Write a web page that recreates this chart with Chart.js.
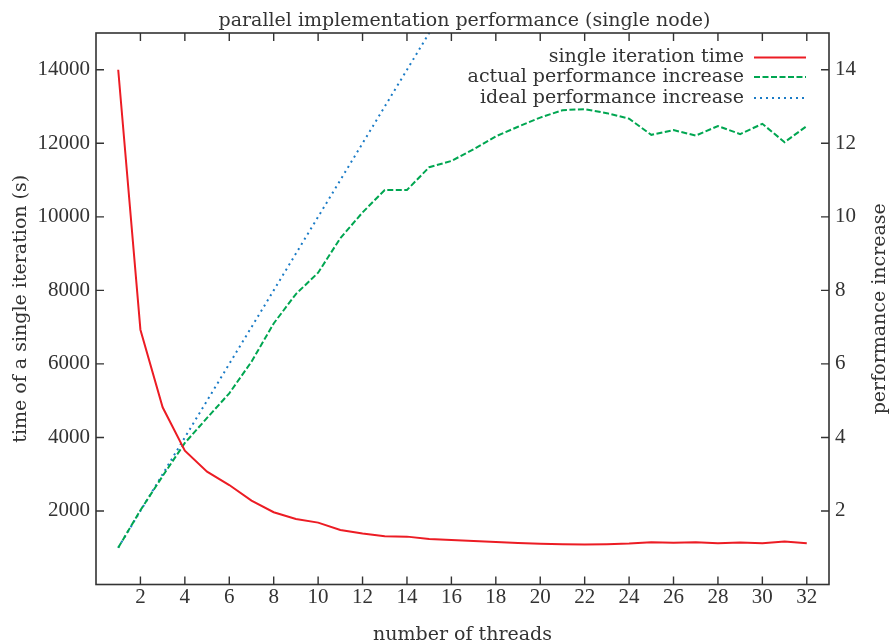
<!DOCTYPE html>
<html>
<head>
<meta charset="utf-8">
<script src="https://cdn.jsdelivr.net/npm/chart.js@4.4.1/dist/chart.umd.min.js"></script>
<style>
  html, body { margin: 0; padding: 0; background: #fff; }
  #wrap { width: 893px; height: 642px; }
</style>
</head>
<body>
<div id="wrap"><canvas id="perfChart" width="893" height="642"></canvas></div>
<script>
// values
const threads = [1, 2, 3, 4, 5, 6, 7, 8, 9, 10, 11, 12, 13, 14, 15, 16,
                 17, 18, 19, 20, 21, 22, 23, 24, 25, 26, 27, 28, 29, 30, 31, 32];
const iterTime = [14000, 6930, 4820, 3640, 3070, 2705, 2280, 1965, 1782, 1683, 1485, 1385, 1312, 1302, 1238, 1212,
                  1185, 1156, 1130, 1110, 1093, 1085, 1098, 1115, 1150, 1138, 1152, 1122, 1145, 1120, 1172, 1122];
const actualGain = [1.0, 2.02, 2.95, 3.85, 4.53, 5.2, 6.06, 7.1, 7.9, 8.48, 9.42, 10.12, 10.73, 10.73, 11.35, 11.52,
                    11.84, 12.19, 12.45, 12.7, 12.9, 12.93, 12.82, 12.67, 12.23, 12.36, 12.21, 12.47, 12.25, 12.53, 12.03, 12.47];
const idealGain = [1, 2, 3, 4, 5, 6, 7, 8, 9, 10, 11, 12, 13, 14, 15, 16,
                   17, 18, 19, 20, 21, 22, 23, 24, 25, 26, 27, 28, 29, 30, 31, 32];

// tick labels
const xTicks = [2, 4, 6, 8, 10, 12, 14, 16, 18, 20, 22, 24, 26, 28, 30, 32];
const timeTicks = [2000, 4000, 6000, 8000, 10000, 12000, 14000];
const gainTicks = [2, 4, 6, 8, 10, 12, 14];

const seriesNames = ['single iteration time', 'actual performance increase', 'ideal performance increase'];
const titleText = 'parallel implementation performance (single node)';
const xTitle = 'number of threads';
const leftTitle = 'time of a single iteration (s)';
const rightTitle = 'performance increase';

const TEXT_FONT = '"DejaVu Serif", "Liberation Serif", serif';
const NUM_FONT = '"Liberation Serif", "DejaVu Serif", serif';
const INK = '#333333';

function points(ys) {
    return threads.map((t, i) => ({ x: t, y: ys[i] }));
}

function fixedTicks(values) {
    return function (scale) {
        scale.ticks = values.map(v => ({ value: v }));
    };
}

// frame round the plot with inward tick marks on all four sides, plus the titles
const framePlugin = {
    id: 'frame',
    afterDraw(chart) {
        const { ctx, chartArea: a, scales } = chart;
        const len = 8;
        ctx.save();
        ctx.strokeStyle = INK;
        ctx.lineWidth = 1.4;
        ctx.beginPath();
        scales.x.ticks.forEach(t => {
            const px = scales.x.getPixelForValue(t.value);
            ctx.moveTo(px, a.bottom); ctx.lineTo(px, a.bottom - len);
            ctx.moveTo(px, a.top); ctx.lineTo(px, a.top + len);
        });
        scales.y.ticks.forEach(t => {
            const py = scales.y.getPixelForValue(t.value);
            ctx.moveTo(a.left, py); ctx.lineTo(a.left + len, py);
        });
        scales.y2.ticks.forEach(t => {
            const py = scales.y2.getPixelForValue(t.value);
            ctx.moveTo(a.right, py); ctx.lineTo(a.right - len, py);
        });
        ctx.stroke();
        ctx.lineWidth = 1.6;
        ctx.strokeRect(a.left, a.top, a.right - a.left, a.bottom - a.top);

        const midX = (a.left + a.right) / 2;
        const midY = (a.top + a.bottom) / 2;
        ctx.font = '19px ' + TEXT_FONT;
        ctx.fillStyle = INK;
        ctx.textAlign = 'center';
        ctx.textBaseline = 'alphabetic';
        ctx.fillText(titleText, midX + 2, 25.5);
        ctx.fillText(xTitle, midX, 640);

        // both y titles read bottom to top, as gnuplot puts them
        ctx.textBaseline = 'middle';
        [[21, leftTitle], [880, rightTitle]].forEach(([x, txt]) => {
            ctx.save();
            ctx.translate(x, midY);
            ctx.rotate(-Math.PI / 2);
            ctx.fillText(txt, 0, 0);
            ctx.restore();
        });
        ctx.restore();
    }
};

// legend inside the plot: text right aligned, line sample on its right
const keyPlugin = {
    id: 'key',
    afterDraw(chart) {
        const { ctx } = chart;
        const textRight = 744, lineFrom = 754, lineTo = 806;
        const rows = [57.5, 77, 98];
        ctx.save();
        ctx.font = '19px ' + TEXT_FONT;
        ctx.fillStyle = INK;
        ctx.textAlign = 'right';
        ctx.textBaseline = 'middle';
        chart.data.datasets.forEach((ds, i) => {
            ctx.fillText(ds.label, textRight, rows[i]);
            ctx.strokeStyle = ds.borderColor;
            ctx.lineWidth = ds.borderWidth;
            ctx.setLineDash(ds.borderDash || []);
            ctx.beginPath();
            ctx.moveTo(lineFrom, rows[i]);
            ctx.lineTo(lineTo, rows[i]);
            ctx.stroke();
        });
        ctx.restore();
    }
};

const ctx = document.getElementById('perfChart').getContext('2d');
new Chart(ctx, {
    type: 'line',
    data: {
        datasets: [{
            label: seriesNames[0],
            data: points(iterTime),
            yAxisID: 'y',
            borderColor: '#ec1c24',
            borderWidth: 2,
            borderDash: [],
            pointRadius: 0,
            tension: 0
        }, {
            label: seriesNames[1],
            data: points(actualGain),
            yAxisID: 'y2',
            borderColor: '#00a651',
            borderWidth: 2,
            borderDash: [6, 2.5],
            pointRadius: 0,
            tension: 0
        }, {
            label: seriesNames[2],
            data: points(idealGain),
            yAxisID: 'y2',
            borderColor: '#1a7bc6',
            borderWidth: 2,
            borderDash: [2, 4],
            pointRadius: 0,
            tension: 0
        }]
    },
    options: {
        responsive: false,
        animation: false,
        layout: { padding: { top: 33 } },
        plugins: {
            legend: { display: false },
            tooltip: { enabled: false },
            title: { display: false }
        },
        scales: {
            x: {
                type: 'linear',
                position: 'bottom',
                min: 0,
                max: 33,
                afterBuildTicks: fixedTicks(xTicks),
                afterFit(scale) { scale.height = 57.5; },
                ticks: {
                    color: INK,
                    padding: 0,
                    maxRotation: 0,
                    autoSkip: false,
                    font: { family: NUM_FONT, size: 21 }
                },
                grid: { display: false, drawTicks: false },
                border: { display: false }
            },
            y: {
                type: 'linear',
                position: 'left',
                min: 0,
                max: 15000,
                afterBuildTicks: fixedTicks(timeTicks),
                afterFit(scale) { scale.width = 96; },
                ticks: {
                    color: INK,
                    padding: 6,
                    callback: v => String(v),
                    font: { family: NUM_FONT, size: 21 }
                },
                grid: { display: false, drawTicks: false },
                border: { display: false }
            },
            y2: {
                type: 'linear',
                position: 'right',
                min: 0,
                max: 15,
                afterBuildTicks: fixedTicks(gainTicks),
                afterFit(scale) { scale.width = 64; },
                ticks: {
                    color: INK,
                    padding: 6,
                    callback: v => String(v),
                    font: { family: NUM_FONT, size: 21 }
                },
                grid: { display: false, drawTicks: false },
                border: { display: false }
            }
        }
    },
    plugins: [framePlugin, keyPlugin]
});
</script>
</body>
</html>
